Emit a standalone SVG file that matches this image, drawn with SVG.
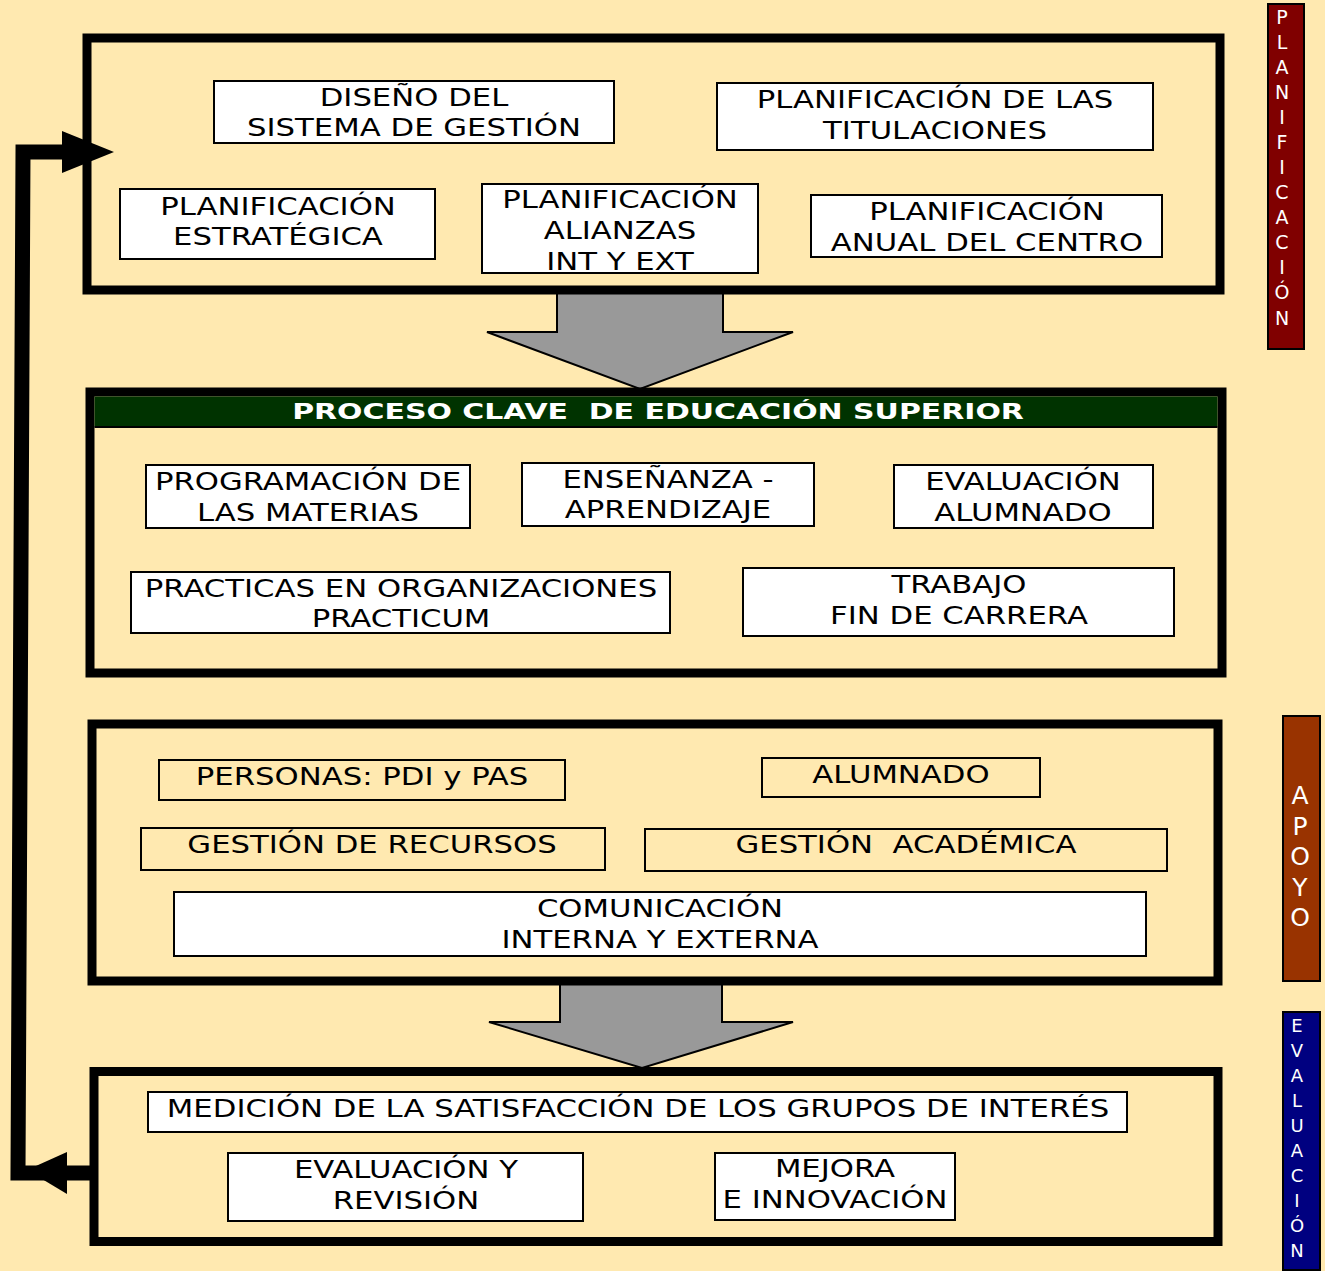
<svg xmlns="http://www.w3.org/2000/svg" width="1325" height="1271" viewBox="0 0 1325 1271">
<style>
.bg{fill:#FFE9B0}
.frame{fill:none;stroke:#000;stroke-width:9}
.wb{fill:#fff;stroke:#000;stroke-width:2}
.ob{fill:none;stroke:#000;stroke-width:2}
.gray{fill:#999;stroke:#000;stroke-width:2;stroke-linejoin:miter}
.t{font-family:"DejaVu Sans",Verdana,sans-serif;font-size:24px;fill:#000;text-anchor:middle;white-space:pre;transform-box:fill-box;transform-origin:center;transform:scaleX(1.28)}
.hd{font-family:"DejaVu Sans",Verdana,sans-serif;font-weight:bold;font-size:22px;fill:#fff;text-anchor:middle;white-space:pre;transform-box:fill-box;transform-origin:center;transform:scaleX(1.36)}
.side{font-family:"DejaVu Sans",Verdana,sans-serif;fill:#fff;text-anchor:middle}
</style>
<rect class="bg" x="0" y="0" width="1325" height="1271"/>

<g id="flow-arrows">
<polygon class="gray" points="557,292 723,292 723,332 793,332 640,389 487,332 557,332"/>
<polygon class="gray" points="560,981 722,981 722,1022 793,1022 642,1068 489,1022 560,1022"/>
</g>

<g id="planificacion">
<rect class="frame" x="87" y="38" width="1133" height="252" stroke-width="8"/>
<g id="n-diseno"><rect class="wb" x="214" y="81" width="400" height="62"/>
<text class="t" x="414" y="106"><tspan x="414">DISEÑO DEL</tspan><tspan x="414" dy="30">SISTEMA DE GESTIÓN</tspan></text></g>
<g id="n-titulaciones"><rect class="wb" x="717" y="83" width="436" height="67"/>
<text class="t" x="935" y="108"><tspan x="935">PLANIFICACIÓN DE LAS</tspan><tspan x="935" dy="31">TITULACIONES</tspan></text></g>
<g id="n-estrategica"><rect class="wb" x="120" y="189" width="315" height="70"/>
<text class="t" x="278" y="215"><tspan x="278">PLANIFICACIÓN</tspan><tspan x="278" dy="30">ESTRATÉGICA</tspan></text></g>
<g id="n-alianzas"><rect class="wb" x="482" y="184" width="276" height="89"/>
<text class="t" x="620" y="208"><tspan x="620">PLANIFICACIÓN</tspan><tspan x="620" dy="31">ALIANZAS</tspan><tspan x="620" dy="31">INT Y EXT</tspan></text></g>
<g id="n-anual"><rect class="wb" x="811" y="195" width="351" height="62"/>
<text class="t" x="987" y="220"><tspan x="987">PLANIFICACIÓN</tspan><tspan x="987" dy="31">ANUAL DEL CENTRO</tspan></text></g>
</g>

<g id="proceso-clave">
<rect class="frame" x="90" y="392" width="1132" height="281"/>
<rect x="94.5" y="396.5" width="1123" height="30" fill="#003300"/>
<line x1="94.5" y1="427" x2="1217.5" y2="427" stroke="#000" stroke-width="2"/>
<text class="hd" x="658" y="419">PROCESO CLAVE  DE EDUCACIÓN SUPERIOR</text>
<g id="n-programacion"><rect class="wb" x="146" y="465" width="324" height="63"/>
<text class="t" x="308" y="490"><tspan x="308">PROGRAMACIÓN DE</tspan><tspan x="308" dy="31">LAS MATERIAS</tspan></text></g>
<g id="n-ensenanza"><rect class="wb" x="522" y="463" width="292" height="63"/>
<text class="t" x="668" y="488"><tspan x="668">ENSEÑANZA -</tspan><tspan x="668" dy="30">APRENDIZAJE</tspan></text></g>
<g id="n-evaluacion-alumnado"><rect class="wb" x="894" y="465" width="259" height="63"/>
<text class="t" x="1023" y="490"><tspan x="1023">EVALUACIÓN</tspan><tspan x="1023" dy="31">ALUMNADO</tspan></text></g>
<g id="n-practicas"><rect class="wb" x="131" y="572" width="539" height="61"/>
<text class="t" x="401" y="597"><tspan x="401">PRACTICAS EN ORGANIZACIONES</tspan><tspan x="401" dy="30">PRACTICUM</tspan></text></g>
<g id="n-trabajo"><rect class="wb" x="743" y="568" width="431" height="68"/>
<text class="t" x="959" y="593"><tspan x="959">TRABAJO</tspan><tspan x="959" dy="31">FIN DE CARRERA</tspan></text></g>
</g>

<g id="apoyo">
<rect class="frame" x="92" y="724" width="1126" height="257" stroke-width="8"/>
<g id="n-personas"><rect class="ob" x="159" y="760" width="406" height="40"/>
<text class="t" x="362" y="785">PERSONAS: PDI y PAS</text></g>
<g id="n-alumnado"><rect class="ob" x="762" y="758" width="278" height="39"/>
<text class="t" x="901" y="783">ALUMNADO</text></g>
<g id="n-recursos"><rect class="ob" x="141" y="828" width="464" height="42"/>
<text class="t" x="372" y="853">GESTIÓN DE RECURSOS</text></g>
<g id="n-academica"><rect class="ob" x="645" y="829" width="522" height="42"/>
<text class="t" x="906" y="853">GESTIÓN  ACADÉMICA</text></g>
<g id="n-comunicacion"><rect class="wb" x="174" y="892" width="972" height="64"/>
<text class="t" x="660" y="917"><tspan x="660">COMUNICACIÓN</tspan><tspan x="660" dy="31">INTERNA Y EXTERNA</tspan></text></g>
</g>

<g id="evaluacion">
<rect class="frame" x="94" y="1071.5" width="1124" height="170"/>
<g id="n-medicion"><rect class="wb" x="148" y="1092" width="979" height="40"/>
<text class="t" x="638" y="1117">MEDICIÓN DE LA SATISFACCIÓN DE LOS GRUPOS DE INTERÉS</text></g>
<g id="n-revision"><rect class="wb" x="228" y="1153" width="355" height="68"/>
<text class="t" x="406" y="1178"><tspan x="406">EVALUACIÓN Y</tspan><tspan x="406" dy="31">REVISIÓN</tspan></text></g>
<g id="n-mejora"><rect class="wb" x="715" y="1153" width="240" height="67"/>
<text class="t" x="835" y="1177"><tspan x="835">MEJORA</tspan><tspan x="835" dy="31">E INNOVACIÓN</tspan></text></g>
</g>

<g id="connectors">
<polyline points="92,1173 18,1173 23,152 66,152" fill="none" stroke="#000" stroke-width="15" stroke-linejoin="miter"/>
<polygon points="62,131 114,152 62,173" fill="#000"/>
<polygon points="67,1152 27,1170 67,1194" fill="#000"/>
</g>

<g id="label-planificacion">
<rect x="1268" y="4" width="36" height="345" fill="#800000" stroke="#000" stroke-width="2"/>
<text class="side" font-size="19"><tspan x="1282" y="24">P</tspan><tspan x="1282" y="49">L</tspan><tspan x="1282" y="74">A</tspan><tspan x="1282" y="99">N</tspan><tspan x="1282" y="124">I</tspan><tspan x="1282" y="149">F</tspan><tspan x="1282" y="174">I</tspan><tspan x="1282" y="199">C</tspan><tspan x="1282" y="224">A</tspan><tspan x="1282" y="249">C</tspan><tspan x="1282" y="274">I</tspan><tspan x="1282" y="299">Ó</tspan><tspan x="1282" y="325">N</tspan></text>
</g>
<g id="label-apoyo">
<rect x="1283" y="716" width="37" height="265" fill="#993300" stroke="#000" stroke-width="2"/>
<text class="side" font-size="25"><tspan x="1300" y="804">A</tspan><tspan x="1300" y="835">P</tspan><tspan x="1300" y="865">O</tspan><tspan x="1300" y="896">Y</tspan><tspan x="1300" y="926">O</tspan></text>
</g>
<g id="label-evaluacion">
<rect x="1283" y="1012" width="37" height="258" fill="#000080" stroke="#000" stroke-width="2"/>
<text class="side" font-size="18"><tspan x="1297" y="1032">E</tspan><tspan x="1297" y="1057">V</tspan><tspan x="1297" y="1082">A</tspan><tspan x="1297" y="1107">L</tspan><tspan x="1297" y="1132">U</tspan><tspan x="1297" y="1157">A</tspan><tspan x="1297" y="1182">C</tspan><tspan x="1297" y="1207">I</tspan><tspan x="1297" y="1232">Ó</tspan><tspan x="1297" y="1257">N</tspan></text>
</g>
</svg>
